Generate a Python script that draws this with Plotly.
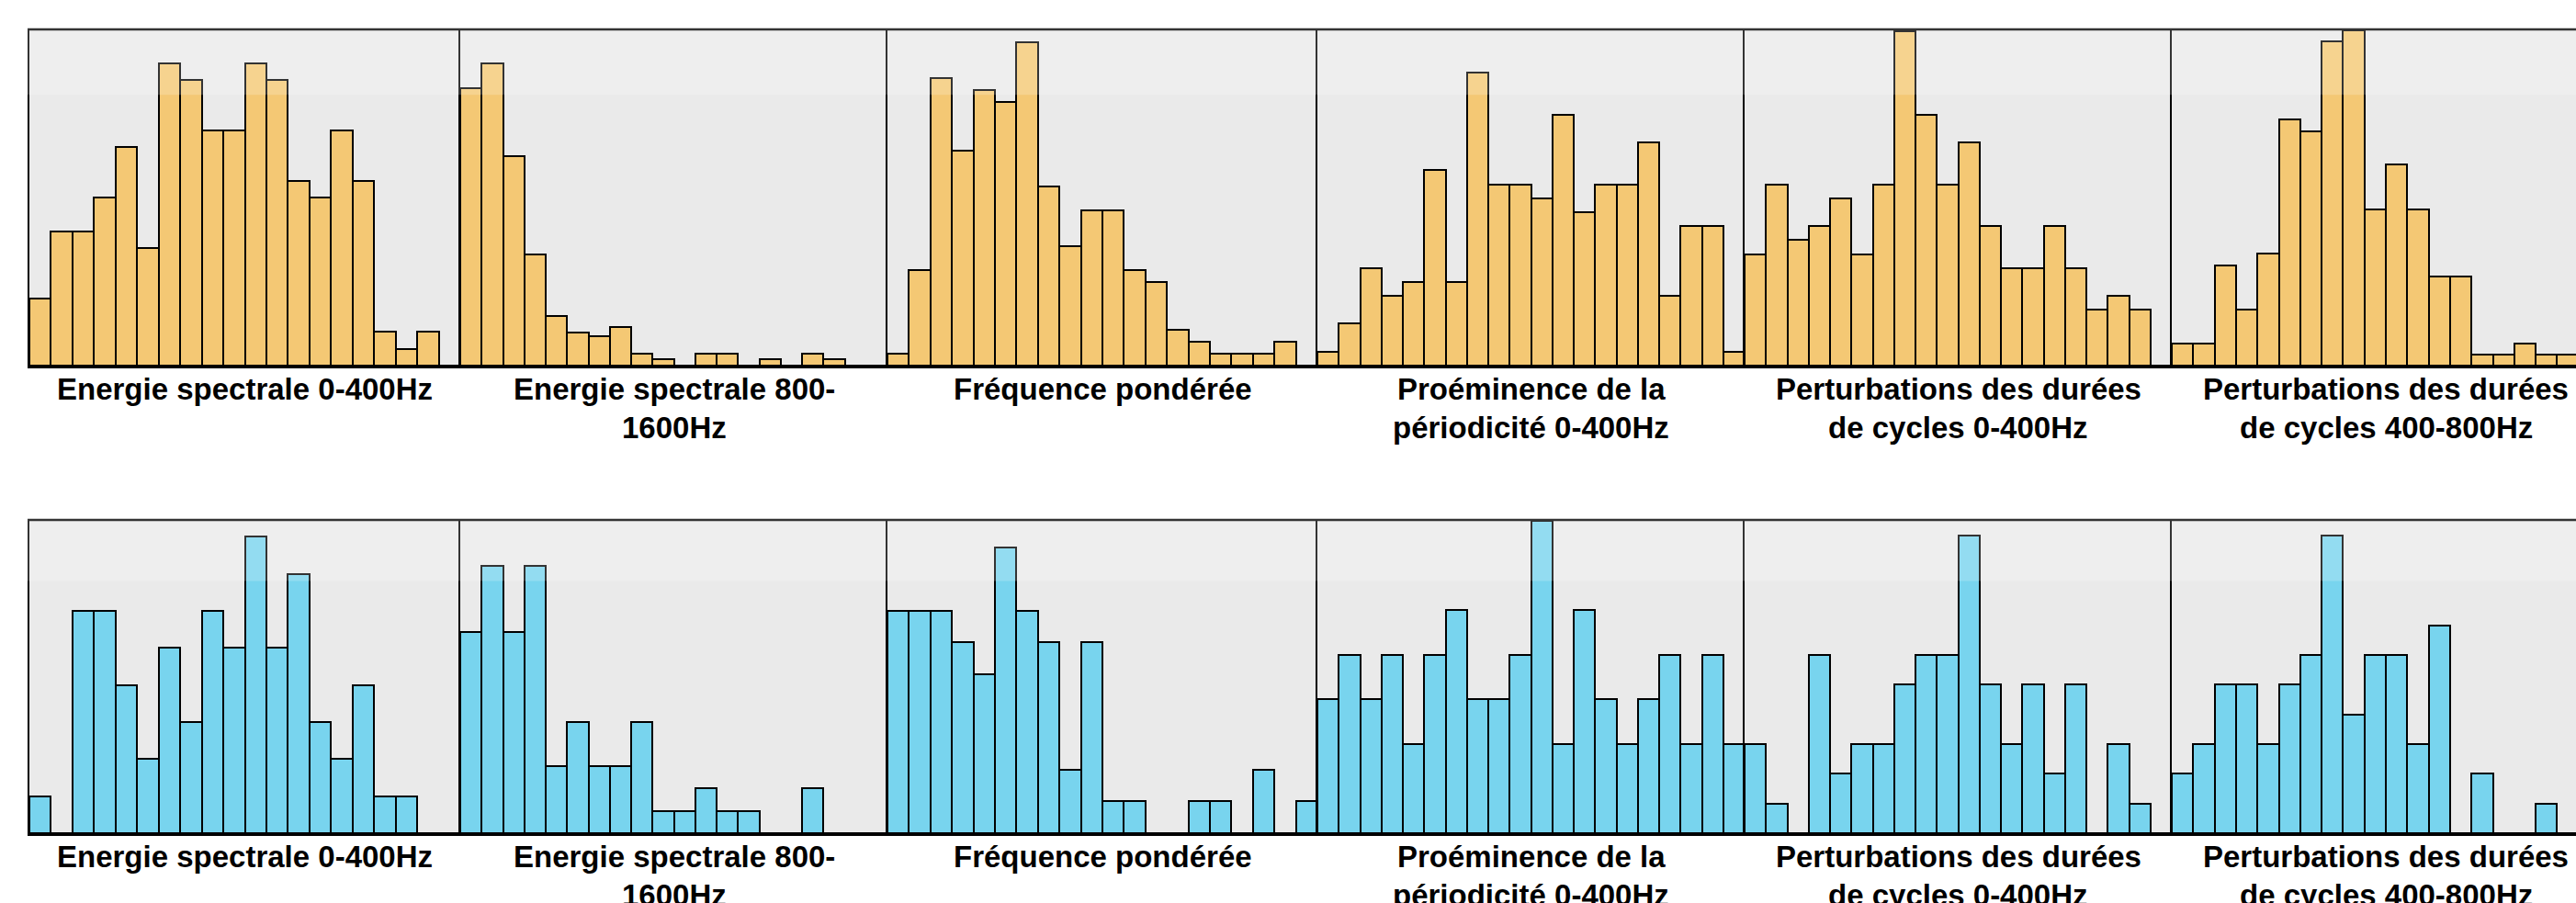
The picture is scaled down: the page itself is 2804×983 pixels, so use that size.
import plotly.graph_objects as go

# ---------------- data ----------------
panel_titles = [
    ["Energie spectrale 0-400Hz"],
    ["Energie spectrale 800-", "1600Hz"],
    ["Fréquence pondérée"],
    ["Proéminence de la", "périodicité 0-400Hz"],
    ["Perturbations des durées", "de cycles 0-400Hz"],
    ["Perturbations des durées", "de cycles 400-800Hz"],
]

# top row (orange) histogram counts, 20 bins per panel
top_p1 = [4, 8, 8, 10, 13, 7, 18, 17, 14, 14, 18, 17, 11, 10, 14, 11, 2, 1, 2, 0]
top_p2 = [45, 49, 34, 18, 8, 5.3, 4.7, 6.3, 2, 1, 0, 2, 2, 0, 1, 0, 2, 1, 0, 0]
top_p3 = [1, 8, 24, 18, 23, 22, 27, 15, 10, 13, 13, 8, 7, 3, 2, 1, 1, 1, 2, 0]
top_p4 = [1, 3, 7, 5, 6, 14, 6, 21, 13, 13, 12, 18, 11, 13, 13, 16, 5, 10, 10, 1]
top_p5 = [8, 13, 9, 10, 12, 8, 13, 24, 18, 13, 16, 10, 7, 7, 10, 7, 4, 5, 4, 0]
top_p6 = [2, 2, 9, 5, 10, 22, 21, 29, 30, 14, 18, 14, 8, 8, 1, 1, 2, 1, 1, 0]

# bottom row (blue) histogram counts
bot_p1 = [1, 0, 6, 6, 4, 2, 5, 3, 6, 5, 8, 5, 7, 3, 2, 4, 1, 1, 0, 0]
bot_p2 = [9, 12, 9, 12, 3, 5, 3, 3, 5, 1, 1, 2, 1, 1, 0, 0, 2, 0, 0, 0]
bot_p3 = [7, 7, 7, 6, 5, 9, 7, 6, 2, 6, 1, 1, 0, 0, 1, 1, 0, 2, 0, 1]
bot_p4 = [3, 4, 3, 4, 2, 4, 5, 3, 3, 4, 7, 2, 5, 3, 2, 3, 4, 2, 4, 2]
bot_p5 = [3, 1, 0, 6, 2, 3, 3, 5, 6, 6, 10, 5, 3, 5, 2, 5, 0, 3, 1, 0]
bot_p6 = [2, 3, 5, 5, 3, 5, 6, 10, 4, 6, 6, 3, 7, 0, 2, 0, 0, 1, 0, 0]

top_rows = [top_p1, top_p2, top_p3, top_p4, top_p5, top_p6]
bot_rows = [bot_p1, bot_p2, bot_p3, bot_p4, bot_p5, bot_p6]

# per-panel y-axis maxima
top_ymax = [20.0, 54.5, 28.1, 24.1, 24.1, 30.1]
bot_ymax = [8.45, 14.04, 9.86, 7.02, 10.54, 10.54]

n_bins = 20
bin_centers = [i + 0.5 for i in range(n_bins)]

# ---------------- layout geometry ----------------
W, H = 2804, 983
# panel separator positions (px); last panel runs past the right edge
EDGES = [32.0, 501.0, 966.0, 1434.0, 1899.0, 2364.0, 2830.0]
rows_geom = [
    dict(top=32.0, bot=398.0, color="#F4C874", data=top_rows, ymax=top_ymax,
         label_y=[424.0, 465.5]),
    dict(top=566.0, bot=907.0, color="#78D4EE", data=bot_rows, ymax=bot_ymax,
         label_y=[932.5, 974.0]),
]

fig = go.Figure()
layout = dict(
    width=W, height=H,
    margin=dict(l=0, r=0, t=0, b=0),
    paper_bgcolor="white",
    plot_bgcolor="#EAEAEA",
    showlegend=False,
    bargap=0,
    annotations=[],
    shapes=[],
)

label_font = dict(family="Liberation Sans, Arial, sans-serif", size=33,
                  color="black", weight="bold")

for r, g in enumerate(rows_geom):
    y0 = 1 - g["bot"] / H
    y1 = 1 - g["top"] / H
    for c in range(6):
        idx = r * 6 + c + 1
        xn = "x" if idx == 1 else f"x{idx}"
        yn = "y" if idx == 1 else f"y{idx}"
        x0px = EDGES[c]
        full_w = EDGES[c + 1] - EDGES[c]
        x1px = min(W, EDGES[c + 1])
        xr = n_bins * (x1px - x0px) / full_w
        fig.add_trace(go.Bar(
            x=bin_centers, y=g["data"][c], width=1,
            marker=dict(color=g["color"], line=dict(color="black", width=2)),
            xaxis=xn, yaxis=yn, hoverinfo="skip",
        ))
        layout["xaxis" if idx == 1 else f"xaxis{idx}"] = dict(
            domain=[x0px / W, x1px / W], range=[0, xr], anchor=yn,
            showticklabels=False, ticks="", showgrid=False, zeroline=False,
            showline=True, linecolor="black", linewidth=3, fixedrange=True,
        )
        layout["yaxis" if idx == 1 else f"yaxis{idx}"] = dict(
            domain=[y0, y1], range=[0, g["ymax"][c]], anchor=xn,
            showticklabels=False, ticks="", showgrid=False, zeroline=False,
            showline=True, linecolor="black", linewidth=2, fixedrange=True,
        )
        # panel labels
        cx = (EDGES[c] + full_w / 2) / W
        for k, line in enumerate(panel_titles[c]):
            layout["annotations"].append(dict(
                text=line, x=cx, y=1 - g["label_y"][k] / H,
                xref="paper", yref="paper", xanchor="center", yanchor="middle",
                showarrow=False, font=label_font,
            ))
    yref = "y domain" if r == 0 else "y7 domain"
    # glossy band at top of each row
    layout["shapes"].append(dict(
        type="rect", xref="paper", x0=(EDGES[0] - 2) / W, x1=1, yref=yref, y0=0.805, y1=1,
        fillcolor="rgba(255,255,255,0.2)", line=dict(width=0), layer="above",
    ))
    # top frame line
    layout["shapes"].append(dict(
        type="line", xref="paper", x0=(EDGES[0] - 2) / W, x1=1, yref=yref, y0=1, y1=1,
        line=dict(color="#333333", width=2.5), layer="above",
    ))

fig.update_layout(**layout)
fig.write_html("out.html", config={"displayModeBar": False})

# remove default browser body margin so the figure sits at the page origin
with open("out.html", "r", encoding="utf-8") as f:
    html = f.read()
html = html.replace("<head>", "<head><style>html,body{margin:0;padding:0;overflow:hidden;}</style>", 1)
with open("out.html", "w", encoding="utf-8") as f:
    f.write(html)
